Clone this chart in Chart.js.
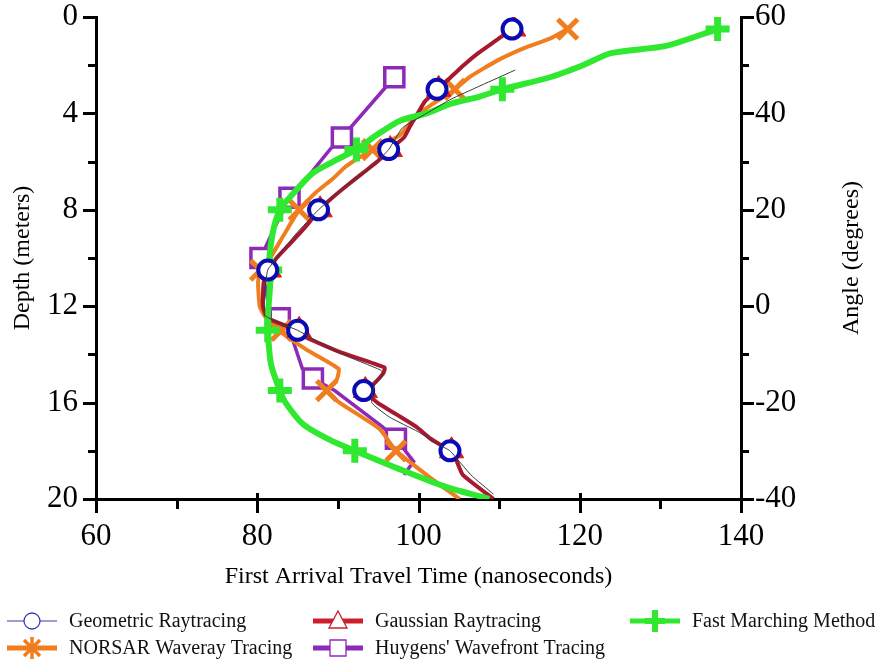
<!DOCTYPE html>
<html><head><meta charset="utf-8">
<script src="https://cdn.jsdelivr.net/npm/chart.js@4.4.1/dist/chart.umd.min.js"></script>
<style>html,body{margin:0;padding:0;background:#fff;}#wrap{width:879px;height:661px;}</style>
</head><body><div id="wrap"><canvas id="c" width="879" height="661"></canvas></div>
<script>
// ---------- data (time in ns, depth in m) ----------
const seriesNames = ['Geometric Raytracing','Gaussian Raytracing','Fast Marching Method','NORSAR Waveray Tracing',"Huygens' Wavefront Tracing"];
const xAxisTicks = [60, 80, 100, 120, 140];
const depthTicks = [0, 4, 8, 12, 16, 20];
const angleTicks = [60, 40, 20, 0, -20, -40];

const markerDepths = [0.5, 3.0, 5.5, 8.0, 10.5, 13.0, 15.5, 18.0];
const geometricMarkers = [111.6, 102.3, 96.3, 87.6, 81.3, 85.0, 93.2, 103.9];
const gaussianMarkers  = [111.8, 102.5, 96.5, 87.8, 81.5, 85.2, 93.4, 104.1];
const fmmMarkers       = [137.1, 110.4, 92.3, 82.8, 81.6, 81.3, 82.8, 92.1];
const norsarMarkers    = [118.5, 104.5, 94.3, 85.2, 80.4, 83.0, 88.6, 97.2];
const huygensDepths    = [2.5, 5.0, 7.5, 10.0, 12.5, 15.0, 17.5];
const huygensMarkers   = [97.0, 90.5, 84.0, 80.4, 82.8, 86.9, 97.2];

const geometricLineDepth = [2.2, 3.4, 4.0, 4.6, 5.5, 6.3, 7.0, 8.0, 9.0, 10.0, 10.5, 11.5, 12.4, 13.0, 13.5, 14.0, 14.65, 14.8, 15.3, 16.0, 16.6, 17.2, 17.76, 18.0, 19.0, 19.8];
const geometricLineTime  = [112.0, 104.1, 101.0, 98.0, 96.3, 93.9, 91.0, 87.6, 84.8, 82.4, 81.3, 80.9, 81.0, 85.0, 87.7, 90.6, 95.3, 95.6, 94.5, 94.2, 96.4, 99.9, 102.6, 103.9, 106.5, 109.3];

const gaussianLineDepth = [0.5, 1.0, 1.5, 2.0, 2.5, 3.0, 3.5, 4.0, 4.5, 5.0, 5.5, 6.0, 6.5, 7.0, 7.5, 8.0, 8.5, 9.0, 9.5, 10.0, 10.5, 11.0, 12.0, 12.5, 13.0, 13.3, 13.9, 14.55, 14.8, 15.3, 15.5, 16.0, 16.5, 17.0, 17.5, 18.0, 18.4, 19.0, 20.0];
const gaussianLineTime  = [111.6, 109.5, 107.4, 105.6, 104.0, 102.4, 100.8, 99.9, 99.0, 98.2, 96.4, 94.9, 93.0, 91.1, 89.3, 87.7, 86.5, 85.2, 83.8, 82.4, 81.4, 80.8, 80.7, 81.3, 85.0, 86.1, 90.2, 95.8, 95.6, 94.2, 93.3, 94.9, 97.3, 99.7, 101.5, 103.9, 104.7, 105.5, 109.3];

const norsarLineDepth = [0.5, 0.9, 1.25, 1.8, 2.5, 3.0, 3.6, 4.1, 4.9, 5.5, 6.2, 6.7, 7.3, 8.0, 9.1, 10.0, 10.5, 11.0, 12.0, 12.4, 13.0, 13.8, 14.6, 15.1, 15.5, 16.0, 17.1, 18.0, 19.1, 20.0];
const norsarLineTime  = [118.5, 116.3, 113.4, 109.8, 106.3, 104.5, 101.8, 99.7, 97.7, 94.3, 91.0, 89.4, 87.2, 85.2, 83.2, 81.6, 80.4, 80.1, 80.3, 80.9, 82.6, 86.1, 90.1, 89.8, 88.6, 90.2, 95.2, 97.2, 101.4, 105.1];

const fmmLineDepth = [0.5, 1.2, 1.5, 2.0, 2.5, 3.0, 3.3, 3.6, 4.0, 4.3, 4.9, 5.5, 6.0, 6.5, 7.5, 8.0, 9.0, 10.5, 11.0, 12.5, 13.0, 14.4, 15.5, 16.0, 16.9, 17.55, 18.0, 18.7, 19.5, 20.0];
const fmmLineTime  = [137.1, 130.7, 123.9, 120.4, 116.3, 110.4, 107.6, 104.0, 101.0, 97.7, 94.8, 92.3, 89.4, 86.8, 84.0, 82.8, 81.9, 81.4, 81.6, 81.3, 81.3, 81.7, 82.8, 83.5, 85.7, 89.0, 92.1, 97.2, 103.4, 108.8];

const huygensLineDepth = [2.5, 5.0, 5.5, 7.0, 7.5, 8.7, 10.0, 12.0, 12.5, 13.0, 14.6, 15.0, 15.5, 17.0, 17.5, 18.45, 18.9, 19.0];
const huygensLineTime  = [97.0, 90.5, 89.0, 85.4, 84.0, 82.2, 80.4, 81.4, 82.8, 84.0, 85.6, 86.9, 89.6, 95.5, 97.2, 99.4, 98.4, 98.2];

// ---------- styles ----------
const C = {geo:'#0b0bb4', geoLine:'#3a3a3a', gau:'#dd1a1a', gauLine:'#a8182f', fmm:'#2fe82f', nor:'#f07d1e', huy:'#8e2ab8'};
const SERIF = "'Liberation Serif','Times New Roman',serif";

function pts(times, depths){ return times.map((t,i)=>({x:t, y:depths[i]})); }
function lineDs(label, times, depths, color, width, order, tension){
  return {label, data: pts(times, depths), showLine:true, borderColor:color, borderWidth:width, pointRadius:0, pointHoverRadius:0, tension: tension||0, order, fill:false};
}
function markDs(label, times, depths, style, radius, bw, border, bg, order){
  return {label, data: pts(times, depths), showLine:false, pointStyle:style, pointRadius:radius, pointHoverRadius:radius, pointBorderWidth:bw, pointBorderColor:border, pointBackgroundColor:bg, order};
}

const datasets = [
  lineDs(seriesNames[0]+' line', geometricLineTime, geometricLineDepth, C.geoLine, 1, 0, 0.15),
  markDs(seriesNames[0], geometricMarkers, markerDepths, 'circle', 9.5, 4, C.geo, '#ffffff', 1),
  markDs(seriesNames[2], fmmMarkers, markerDepths, 'cross', 12, 7, C.fmm, C.fmm, 2),
  lineDs(seriesNames[2]+' line', fmmLineTime, fmmLineDepth, C.fmm, 6, 3, 0.25),
  markDs(seriesNames[1], gaussianMarkers, markerDepths, 'triangle', 14, 1, C.gau, C.gau, 4),
  lineDs(seriesNames[1]+' line', gaussianLineTime, gaussianLineDepth, C.gauLine, 4, 5, 0.15),
  markDs(seriesNames[3], norsarMarkers, markerDepths, 'crossRot', 14, 5, C.nor, C.nor, 6),
  lineDs(seriesNames[3]+' line', norsarLineTime, norsarLineDepth, C.nor, 4, 7, 0.15),
  markDs(seriesNames[4], huygensMarkers, huygensDepths, 'rect', 13.5, 3.5, C.huy, '#ffffff', 8),
  lineDs(seriesNames[4]+' line', huygensLineTime, huygensLineDepth, C.huy, 3.5, 9, 0),
];

// ---------- tick marks (major + minor) and right-axis title ----------
const tickMarks = {
  id:'tickMarks',
  afterDraw(chart){
    const {ctx, chartArea:a, scales} = chart;
    ctx.save(); ctx.strokeStyle='#000'; ctx.lineWidth=3; ctx.lineCap='butt';
    const xs = scales.x, ys = scales.y, y2 = scales.y2;
    for (let v = xs.min; v <= xs.max + 1e-9; v += 10){
      const px = Math.round(xs.getPixelForValue(v)) + 0.5;
      const major = Math.abs(v % 20) < 1e-9;
      ctx.beginPath(); ctx.moveTo(px, major ? a.bottom - 6 : a.bottom); ctx.lineTo(px, a.bottom + (major ? 14 : 10)); ctx.stroke();
    }
    for (let v = ys.min; v <= ys.max + 1e-9; v += 2){
      const py = Math.round(ys.getPixelForValue(v)) + 0.5;
      const major = Math.abs(v % 4) < 1e-9;
      ctx.beginPath(); ctx.moveTo(a.left - (major ? 13 : 8), py); ctx.lineTo(a.left, py); ctx.stroke();
    }
    for (let v = y2.min; v <= y2.max + 1e-9; v += 10){
      const py = Math.round(y2.getPixelForValue(v)) + 0.5;
      const major = Math.abs(v % 20) < 1e-9;
      ctx.beginPath(); ctx.moveTo(a.right, py); ctx.lineTo(a.right + (major ? 13 : 8), py); ctx.stroke();
    }
    // right axis title, reading bottom-to-top
    ctx.translate(852, (a.top + a.bottom) / 2);
    ctx.rotate(-Math.PI / 2);
    ctx.fillStyle = '#000'; ctx.font = "24px " + SERIF; ctx.textAlign = 'center'; ctx.textBaseline = 'middle';
    ctx.fillText('Angle (degrees)', 0, 0);
    ctx.restore();
  }
};

// ---------- legend (3 columns, 2 rows) ----------
const legendItems = [
  {name: seriesNames[0], col:0, row:0, color:'#3b3bb0', lw:1.2, mark:'circle'},
  {name: seriesNames[1], col:1, row:0, color:'#cc1f2e', lw:5, mark:'triangle'},
  {name: seriesNames[2], col:2, row:0, color:C.fmm, lw:5, mark:'plus'},
  {name: seriesNames[3], col:0, row:1, color:C.nor, lw:5, mark:'star'},
  {name: seriesNames[4], col:1, row:1, color:C.huy, lw:5, mark:'square'},
];
const customLegend = {
  id:'customLegend',
  afterDraw(chart){
    const ctx = chart.ctx;
    const colX = [7, 313, 630], rowY = [621, 648];
    ctx.save();
    legendItems.forEach(it => {
      const x0 = colX[it.col], y = rowY[it.row], cx = x0 + 25;
      ctx.strokeStyle = it.color; ctx.lineWidth = it.lw;
      ctx.beginPath(); ctx.moveTo(x0, y); ctx.lineTo(x0 + 50, y); ctx.stroke();
      ctx.lineWidth = 1.3; ctx.fillStyle = '#fff';
      if (it.mark === 'circle'){ ctx.beginPath(); ctx.arc(cx, y, 8, 0, Math.PI*2); ctx.fill(); ctx.stroke(); }
      if (it.mark === 'triangle'){ ctx.beginPath(); ctx.moveTo(cx, y-10); ctx.lineTo(cx+9, y+7); ctx.lineTo(cx-9, y+7); ctx.closePath(); ctx.fill(); ctx.stroke(); }
      if (it.mark === 'square'){ ctx.beginPath(); ctx.rect(cx-8, y-8, 16, 16); ctx.fill(); ctx.stroke(); }
      if (it.mark === 'plus'){ ctx.lineWidth = 6; ctx.beginPath(); ctx.moveTo(cx-10, y); ctx.lineTo(cx+10, y); ctx.moveTo(cx, y-11); ctx.lineTo(cx, y+11); ctx.stroke(); }
      if (it.mark === 'star'){ ctx.lineWidth = 3.5; ctx.beginPath(); ctx.moveTo(cx-8, y-8); ctx.lineTo(cx+8, y+8); ctx.moveTo(cx+8, y-8); ctx.lineTo(cx-8, y+8); ctx.moveTo(cx, y-11); ctx.lineTo(cx, y+11); ctx.stroke(); }
      ctx.fillStyle = '#111'; ctx.font = "20px " + SERIF; ctx.textBaseline = 'middle'; ctx.textAlign = 'left';
      ctx.fillText(it.name, x0 + 62, y + 1);
    });
    ctx.restore();
  }
};

const tickFont = {family: SERIF, size: 31, lineHeight: 1.0};
const titleFont = {family: SERIF, size: 24, lineHeight: 1.2};

new Chart(document.getElementById('c'), {
  type: 'scatter',
  data: {datasets},
  options: {
    responsive: false, animation: false, devicePixelRatio: 1,
    layout: {autoPadding: false, padding: {top: 17, left: 0, right: 0, bottom: 70}},
    plugins: {legend: {display: false}, tooltip: {enabled: false}},
    scales: {
      x: {
        type: 'linear', position: 'bottom', min: 60, max: 140,
        afterBuildTicks: s => { s.ticks = xAxisTicks.map(v => ({value: v})); },
        ticks: {font: tickFont, color: '#000', padding: 22, maxRotation: 0, autoSkip: false},
        grid: {display: false, drawTicks: false},
        border: {display: true, color: '#000', width: 3},
        title: {display: true, text: 'First Arrival Travel Time (nanoseconds)', font: titleFont, color: '#000', padding: {top: 0, bottom: 0}},
        afterFit: s => { s.height = 92; }
      },
      y: {
        type: 'linear', position: 'left', min: 0, max: 20, reverse: true,
        afterBuildTicks: s => { s.ticks = depthTicks.map(v => ({value: v})); },
        ticks: {font: tickFont, color: '#000', padding: 0, autoSkip: false},
        grid: {display: false, drawTicks: true, tickLength: 18},
        border: {display: true, color: '#000', width: 3},
        title: {display: true, text: 'Depth (meters)', font: titleFont, color: '#000', padding: {top: 8, bottom: 0}},
        afterFit: s => { s.width = 96; }
      },
      y2: {
        type: 'linear', position: 'right', min: -40, max: 60,
        afterBuildTicks: s => { s.ticks = angleTicks.map(v => ({value: v})); },
        ticks: {font: tickFont, color: '#000', padding: 0, autoSkip: false},
        grid: {display: false, drawTicks: true, tickLength: 14},
        border: {display: true, color: '#000', width: 3},
        title: {display: false},
        afterFit: s => { s.width = 138; }
      }
    }
  },
  plugins: [tickMarks, customLegend]
});
</script></body></html>
